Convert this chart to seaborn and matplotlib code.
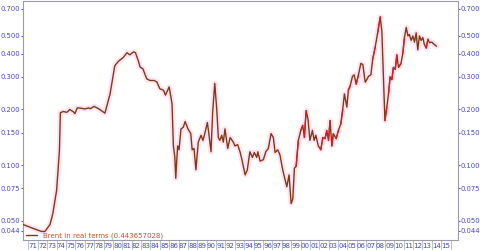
import numpy as np
import pandas as pd
import matplotlib
matplotlib.use("Agg")
import matplotlib.pyplot as plt
import seaborn as sns

# ---- data ----
years = [1970.37, 1971.5, 1972.4, 1972.75, 1973.3, 1973.6, 1974.0, 1974.3, 1974.4, 1974.7,
         1975.1, 1975.4, 1975.8, 1975.95, 1976.2, 1976.7, 1977.0, 1977.4, 1977.6, 1978.0,
         1978.3, 1978.6, 1979.15, 1979.7, 1980.2, 1980.6, 1981.1, 1981.5, 1981.8, 1982.2,
         1982.4, 1982.7, 1982.9, 1983.2, 1983.6, 1983.95, 1984.4, 1984.7, 1985.0, 1985.4,
         1985.6, 1986.0, 1986.3, 1986.45, 1986.6, 1986.7, 1986.9, 1987.05, 1987.26, 1987.5,
         1987.7, 1988.0, 1988.3, 1988.45, 1988.65, 1988.85, 1989.1, 1989.4, 1989.6, 1989.8,
         1990.07, 1990.25, 1990.46, 1990.64, 1990.86, 1991.07, 1991.24, 1991.4, 1991.6, 1991.77,
         1991.95, 1992.24, 1992.5, 1992.84, 1993.0, 1993.3, 1993.55, 1993.7, 1994.1, 1994.33,
         1994.6, 1994.87, 1995.08, 1995.33, 1995.45, 1995.7, 1996.04, 1996.3, 1996.57, 1996.86,
         1997.1, 1997.29, 1997.57, 1997.82, 1998.1, 1998.35, 1998.54, 1998.78, 1999.0, 1999.18,
         1999.35, 1999.53, 1999.77, 2000.03, 2000.24, 2000.41, 2000.6, 2000.8, 2001.0, 2001.27,
         2001.45, 2001.63, 2001.9, 2002.16, 2002.38, 2002.62, 2002.8, 2002.98, 2003.15, 2003.34,
         2003.5, 2003.8, 2004.04, 2004.3, 2004.5, 2004.68, 2004.94, 2005.1, 2005.3, 2005.54,
         2005.72, 2005.93, 2006.18, 2006.43, 2006.64, 2006.9, 2007.07, 2007.24, 2007.5, 2007.7,
         2007.96, 2008.2, 2008.5, 2008.67, 2008.84, 2009.0, 2009.2, 2009.38, 2009.55, 2009.74,
         2009.9, 2010.1, 2010.27, 2010.44, 2010.7, 2010.9, 2011.08, 2011.27, 2011.45, 2011.6,
         2011.8, 2011.98, 2012.15, 2012.33, 2012.5, 2012.68, 2012.86, 2013.04, 2013.2, 2013.4,
         2013.58, 2013.75, 2014.0, 2014.25, 2014.5]
brent_real = [0.0478, 0.0454, 0.0437, 0.0437, 0.0477, 0.0547, 0.0731, 0.120, 0.192, 0.195,
              0.193, 0.200, 0.194, 0.190, 0.204, 0.203, 0.201, 0.204, 0.202, 0.208,
              0.204, 0.200, 0.191, 0.243, 0.345, 0.365, 0.382, 0.406, 0.395, 0.410,
              0.406, 0.368, 0.339, 0.332, 0.293, 0.287, 0.287, 0.281, 0.259, 0.254,
              0.239, 0.265, 0.215, 0.127, 0.111, 0.0848, 0.127, 0.121, 0.157, 0.160,
              0.172, 0.157, 0.148, 0.121, 0.123, 0.0943, 0.133, 0.145, 0.136, 0.148,
              0.170, 0.145, 0.118, 0.195, 0.277, 0.200, 0.141, 0.136, 0.145, 0.133,
              0.157, 0.123, 0.141, 0.133, 0.127, 0.129, 0.118, 0.110, 0.0885, 0.0943,
              0.118, 0.110, 0.117, 0.110, 0.118, 0.105, 0.107, 0.118, 0.123, 0.148,
              0.141, 0.117, 0.121, 0.113, 0.0943, 0.0836, 0.0763, 0.0885, 0.0619, 0.0657,
              0.0963, 0.0983, 0.136, 0.154, 0.164, 0.141, 0.197, 0.177, 0.136, 0.154,
              0.136, 0.145, 0.127, 0.121, 0.141, 0.139, 0.154, 0.136, 0.174, 0.127,
              0.148, 0.139, 0.154, 0.167, 0.200, 0.243, 0.206, 0.254, 0.269, 0.302,
              0.308, 0.274, 0.308, 0.355, 0.350, 0.281, 0.290, 0.302, 0.308, 0.375,
              0.435, 0.511, 0.634, 0.530, 0.302, 0.174, 0.206, 0.243, 0.300, 0.290,
              0.338, 0.330, 0.395, 0.338, 0.354, 0.400, 0.490, 0.556, 0.500, 0.510,
              0.473, 0.500, 0.463, 0.520, 0.420, 0.500, 0.473, 0.490, 0.450, 0.430,
              0.480, 0.460, 0.463, 0.450, 0.440]
y_ticks = [0.044, 0.050, 0.075, 0.100, 0.150, 0.200, 0.300, 0.400, 0.500, 0.700]
year_labels = ["71", "72", "73", "74", "75", "76", "77", "78", "79", "80", "81", "82", "83",
               "84", "85", "86", "87", "88", "89", "90", "91", "92", "93", "94", "95", "96",
               "97", "98", "99", "00", "01", "02", "03", "04", "05", "06", "07", "08", "09",
               "10", "11", "12", "13", "14", "15"]
legend_label = "Brent in real terms (0.443657028)"

df = pd.DataFrame({"year": years, "value": brent_real})

sns.set_theme(style="white")
plt.rcParams["font.family"] = ["DejaVu Sans"]

fig = plt.figure(figsize=(4.8, 2.5), dpi=100)
ax = fig.add_axes([0.047, 0.04, 0.907, 0.956])

brown = "#7e3a10"
red = "#e01a1a"
tick_blue = "#4646c8"
frame = "#9a9aa8"

# soft pink halo
sns.lineplot(data=df, x="year", y="value", ax=ax, color="#ffe3f5", linewidth=4,
             legend=False, zorder=1)
# main line
sns.lineplot(data=df, x="year", y="value", ax=ax, color=brown, linewidth=1.0,
             label=legend_label, zorder=3)
# red highlights on some rising moves in the later, volatile part
vals = np.array(brent_real)
yrs = np.array(years)
for i in range(1, len(vals)):
    if yrs[i] > 1999.5 and vals[i] > vals[i - 1] * 1.04 and i % 2 == 0:
        ax.plot(yrs[i - 1:i + 1], vals[i - 1:i + 1], color=red, linewidth=0.9,
                zorder=4)

ax.set_yscale("log")
ax.set_ylim(0.0393, 0.773)
ax.set_xlim(1970.37, 2016.78)
ax.set_yticks(y_ticks)
ax.set_yticklabels([f"{t:.3f}" for t in y_ticks])
ax.yaxis.set_minor_locator(matplotlib.ticker.NullLocator())
ax.tick_params(axis="y", which="major", left=True, right=True, labelleft=True,
               labelright=True, direction="out", length=1.5, width=0.7,
               colors=tick_blue, labelsize=4.9, pad=0.3)

# x axis: boxed year labels
ax.set_xticks(list(range(1971, 2017)))
ax.set_xticklabels([])
ax.set_xticks([1971.5 + i for i in range(len(year_labels))], minor=True)
ax.set_xticklabels(year_labels, minor=True)
ax.tick_params(axis="x", which="major", bottom=True, direction="out", length=9.5,
               width=0.6, color="#a8b4e0")
ax.tick_params(axis="x", which="minor", bottom=True, length=0, labelsize=5.0,
               labelcolor=tick_blue, pad=2)
ax.plot([0, 1], [-0.04, -0.04], transform=ax.transAxes, color="#a8b4e0",
        linewidth=0.6, clip_on=False)

ax.set_xlabel("")
ax.set_ylabel("")
for s in ax.spines.values():
    s.set_color(frame)
    s.set_linewidth(0.8)

leg = ax.legend(loc="lower left", frameon=False, fontsize=5.0, handlelength=1.6,
                borderaxespad=0.1, bbox_to_anchor=(0.0, -0.01))
for t in leg.get_texts():
    t.set_color("#c0502a")

fig.savefig("out.png", dpi=100)
